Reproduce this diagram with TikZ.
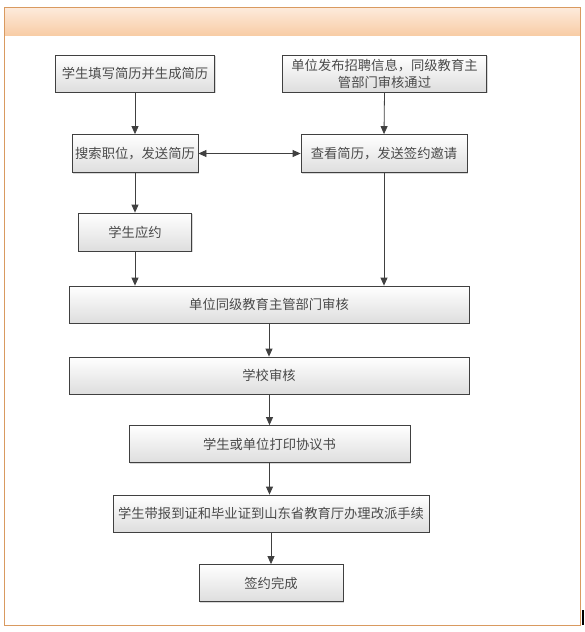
\documentclass[tikz,border=0pt]{standalone}
\usepackage{fontspec}
\newfontfamily\cjk{Noto Sans CJK SC}
\usetikzlibrary{arrows.meta,shadows}
\definecolor{framecol}{HTML}{D99A60}
\definecolor{headtop}{HTML}{FDEBDD}
\definecolor{headbot}{HTML}{F8CDA6}
\definecolor{boxline}{HTML}{404040}
\definecolor{txtcol}{HTML}{4A4A4A}
\begin{document}
\begin{tikzpicture}[x=1pt,y=-1pt,
  stepbox/.style={draw=boxline,line width=0.8pt,top color=white,bottom color=black!13,
    drop shadow={shadow xshift=1.2pt,shadow yshift=-1.2pt,fill=black!25,opacity=0.6},
    text=txtcol,font=\cjk\fontsize{13.3}{17}\selectfont,align=center,inner sep=0pt},
  flow/.style={draw=boxline,line width=0.8pt,-{Triangle[length=8pt,width=7pt]}},
  flow2/.style={draw=boxline,line width=0.8pt,{Triangle[length=8pt,width=7pt]}-{Triangle[length=8pt,width=7pt]}}]
\useasboundingbox (0,0) rectangle (584,632);
\fill[white] (0,0) rectangle (584,632);
% frame and header
\shade[top color=headtop,bottom color=headbot] (4,7) rectangle (580,35);
\draw[framecol,line width=1pt] (4,7) rectangle (580,625);
\fill[black] (581.5,610) rectangle (584,625);
% boxes
\node[stepbox,minimum width=159pt,minimum height=37pt] (b1) at (135,73.5) {学生填写简历并生成简历};
\node[stepbox,minimum width=204pt,minimum height=37pt] (b2) at (384.5,73.5) {单位发布招聘信息，同级教育主\\管部门审核通过};
\node[stepbox,minimum width=126pt,minimum height=38pt] (b3) at (135,153.5) {搜索职位，发送简历};
\node[stepbox,minimum width=166pt,minimum height=38pt] (b4) at (384,153.5) {查看简历，发送签约邀请};
\node[stepbox,minimum width=113pt,minimum height=38pt] (b5) at (135,232) {学生应约};
\node[stepbox,minimum width=400pt,minimum height=37pt] (b6) at (269,304.5) {单位同级教育主管部门审核};
\node[stepbox,minimum width=400pt,minimum height=37pt] (b7) at (269,375.5) {学校审核};
\node[stepbox,minimum width=281pt,minimum height=37pt] (b8) at (269.5,444) {学生或单位打印协议书};
\node[stepbox,minimum width=316pt,minimum height=37pt] (b9) at (271,513.5) {学生带报到证和毕业证到山东省教育厅办理改派手续};
\node[stepbox,minimum width=144pt,minimum height=37pt] (b10) at (271,583) {签约完成};
% connectors
\draw[flow] (b1.south) -- (b3.north);
\draw[flow] (b3.south) -- (b5.north);
\draw[flow] (b5.south) -- (b5.south |- b6.north);
\draw[flow] (b2.south) -- (b4.north);
\draw[flow] (b4.south) -- (b4.south |- b6.north);
\draw[flow2] (b3.east) -- (b4.west);
\draw[flow] (b6.south -| b7.north) -- (b7.north);
\draw[flow] (b7.south -| b8.north) -- (b8.north);
\draw[flow] (b8.south) -- (b8.south |- b9.north);
\draw[flow] (b9.south) -- (b10.north);
\end{tikzpicture}
\end{document}
